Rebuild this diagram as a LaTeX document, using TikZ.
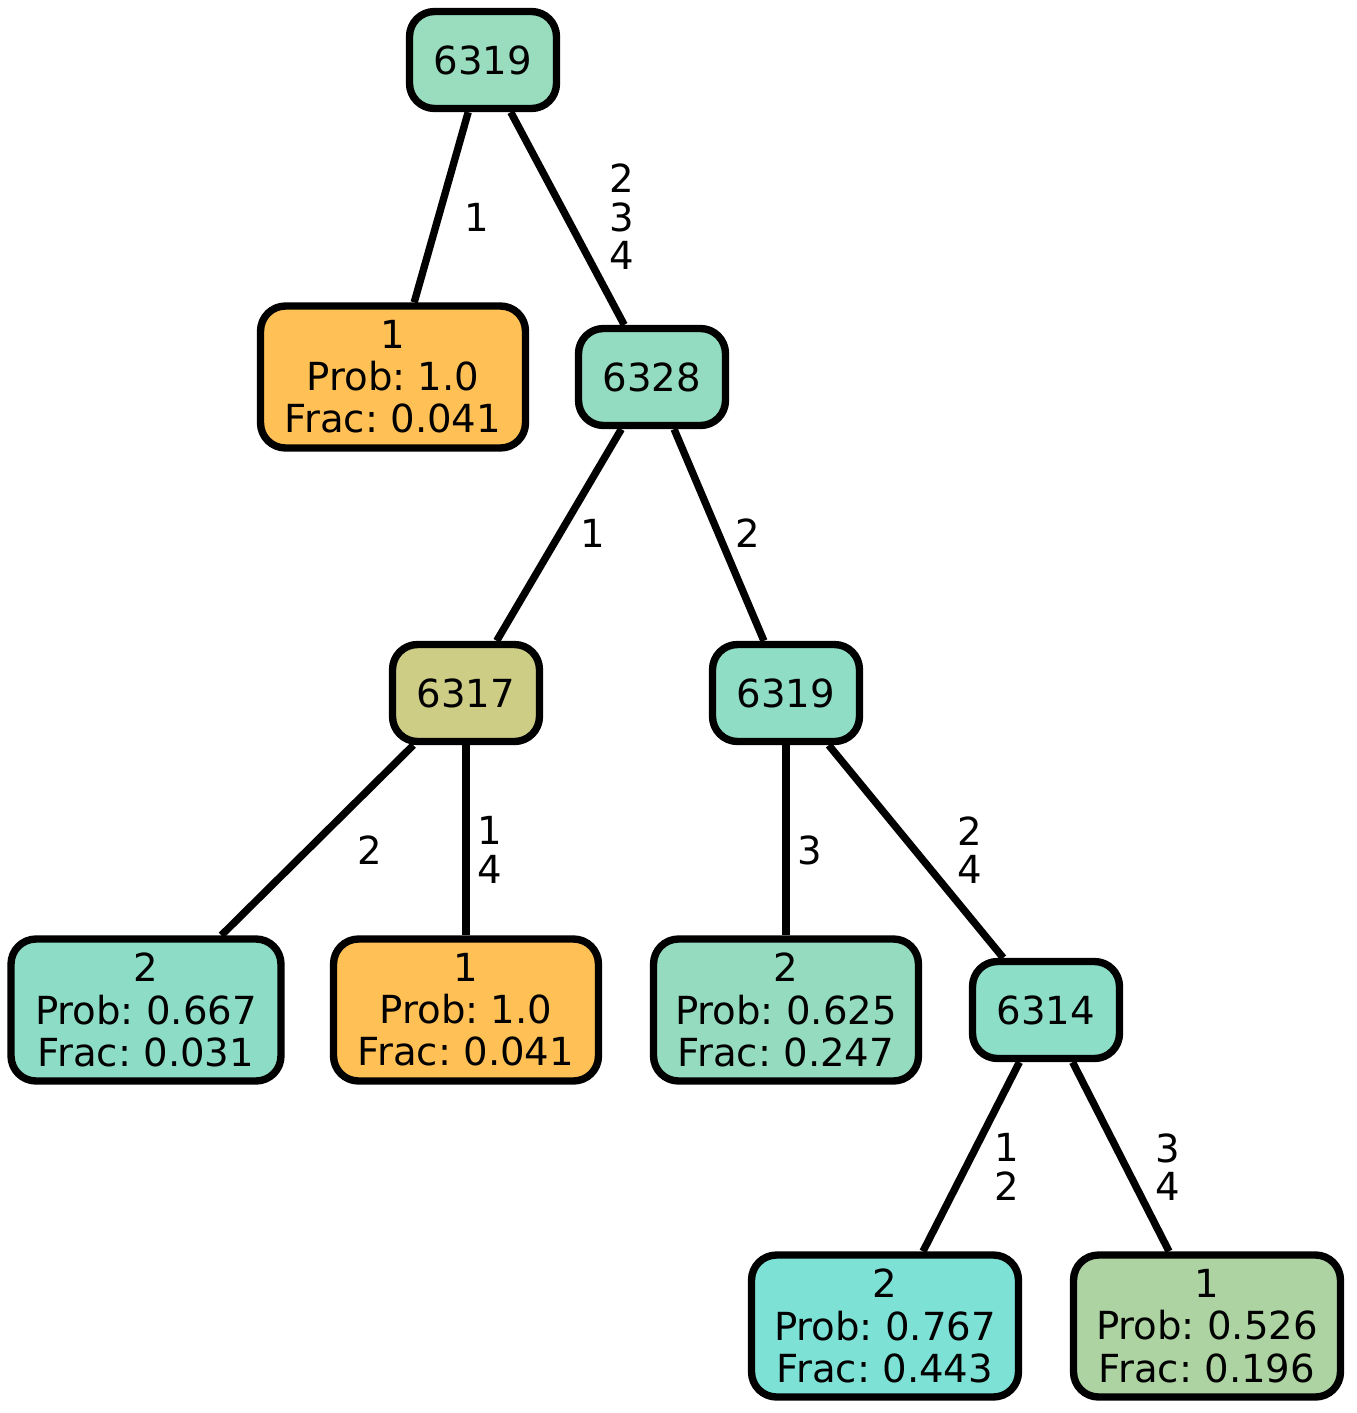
\documentclass[tikz,border=0pt]{standalone}
\usepackage{fontspec}
\setmainfont{DejaVu Sans}
\frenchspacing
\definecolor{tealA}{HTML}{9ADCBE}
\definecolor{tealB}{HTML}{93DBC1}
\definecolor{tealC}{HTML}{8FDDC5}
\definecolor{tealD}{HTML}{8DDDC6}
\definecolor{tealE}{HTML}{95DBC0}
\definecolor{tealF}{HTML}{8DDEC7}
\definecolor{cyanA}{HTML}{7DE1D6}
\definecolor{orangeA}{HTML}{FFC155}
\definecolor{oliveA}{HTML}{CDCD86}
\definecolor{greenA}{HTML}{AED3A3}
\begin{document}
\begin{tikzpicture}[x=0.02cm,y=-0.02cm,
    split/.style={draw=black,line width=4.2pt,rounded corners=0.5cm,inner sep=0pt,
      minimum width=2.94cm,minimum height=1.94cm,font=\fontsize{22}{24}\selectfont},
    leaf/.style={draw=black,line width=4.2pt,rounded corners=0.5cm,inner sep=0pt,
      minimum width=5.3cm,minimum height=2.84cm,align=center,font=\fontsize{22}{24}\selectfont},
    edge/.style={line width=4.2pt},
    elabel/.style={align=center,inner sep=0pt,font=\fontsize{22}{22}\selectfont}]
        \useasboundingbox (0,0) rectangle (1356,1413);
        % inner nodes
        \node[split,fill=tealA] (root) at (483,60) {6319};
        \node[split,fill=tealB] (n6328) at (652,377) {6328};
        \node[split,fill=oliveA] (n6317) at (466,693) {6317};
        \node[split,fill=tealC] (n6319) at (786,693) {6319};
        \node[split,fill=tealF] (n6314) at (1046,1010) {6314};
        % leaves
        \node[leaf,fill=orangeA] (leafA) at (393,377) {1\\Prob: 1.0\\Frac: 0.041};
        \node[leaf,fill=tealD,minimum width=5.4cm] (leafB) at (146,1010) {2\\Prob: 0.667\\Frac: 0.031};
        \node[leaf,fill=orangeA] (leafC) at (466,1010) {1\\Prob: 1.0\\Frac: 0.041};
        \node[leaf,fill=tealE] (leafD) at (786,1010) {2\\Prob: 0.625\\Frac: 0.247};
        \node[leaf,fill=cyanA,minimum width=5.34cm] (leafE) at (885,1326) {2\\Prob: 0.767\\Frac: 0.443};
        \node[leaf,fill=greenA,minimum width=5.34cm] (leafF) at (1207,1326) {1\\Prob: 0.526\\Frac: 0.196};
        % edges
        \draw[edge] (root) -- (leafA);
        \draw[edge] (root) -- (n6328);
        \draw[edge] (n6328) -- (n6317);
        \draw[edge] (n6328) -- (n6319);
        \draw[edge] (n6317) -- (leafB);
        \draw[edge] (n6317) -- (leafC);
        \draw[edge] (n6319) -- (leafD);
        \draw[edge] (n6319) -- (n6314);
        \draw[edge] (n6314) -- (leafE);
        \draw[edge] (n6314) -- (leafF);
        % edge labels
        \node[elabel] (lbA) at (477,217) {1};
        \node[elabel] (lbB) at (622,217) {2\\3\\4};
        \node[elabel] (lbC) at (593,533) {1};
        \node[elabel] (lbD) at (748,533) {2};
        \node[elabel] (lbE) at (370,850) {2};
        \node[elabel] (lbF) at (490,850) {1\\4};
        \node[elabel] (lbG) at (810,850) {3};
        \node[elabel] (lbH) at (970,850) {2\\4};
        \node[elabel] (lbI) at (1007,1167) {1\\2};
        \node[elabel] (lbJ) at (1168,1167) {3\\4};
\end{tikzpicture}
\end{document}
